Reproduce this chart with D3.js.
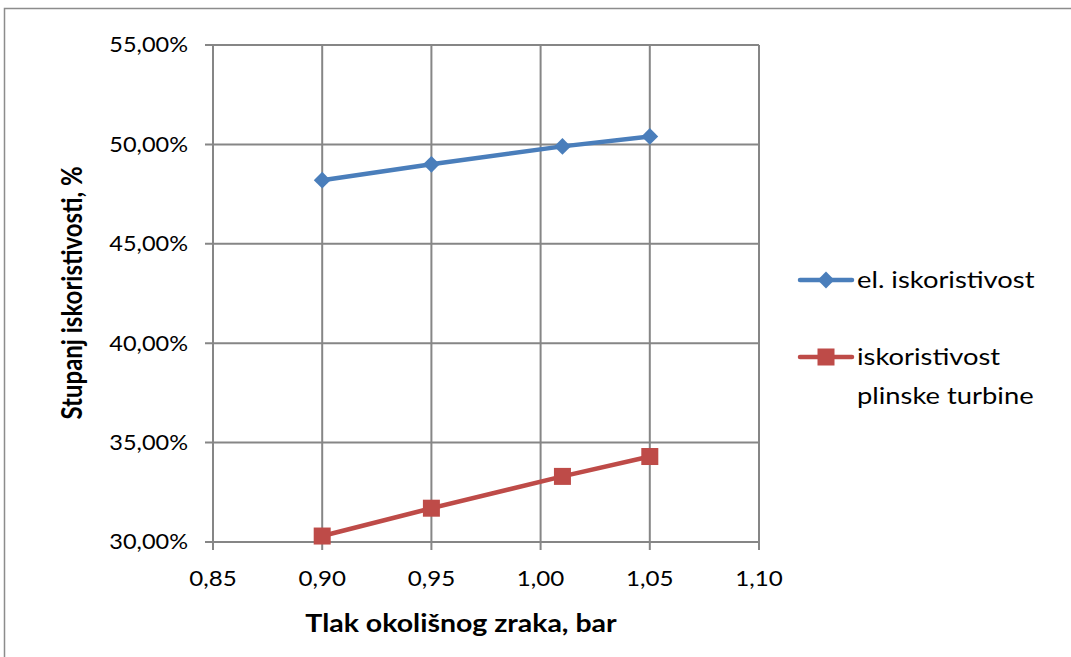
<!DOCTYPE html>
<html><head><meta charset="utf-8">
<script src="https://cdn.jsdelivr.net/npm/d3@7"></script>
<style>body{margin:0;background:#fff;} text{font-family:Lato,"Open Sans",sans-serif;}</style>
</head><body>
<svg id="c" width="1071" height="657"></svg>
<script>
const xValues = [0.90, 0.95, 1.01, 1.05];
const elEff = [0.482, 0.490, 0.499, 0.504];
const gtEff = [0.303, 0.317, 0.333, 0.343];
const xTicks = [0.85, 0.90, 0.95, 1.00, 1.05, 1.10];
const yTicks = [0.30, 0.35, 0.40, 0.45, 0.50, 0.55];
const seriesNames = ["el. iskoristivost", ["iskoristivost", "plinske turbine"]];
const colors = ["#4a7ebb", "#be4b48"];

const svg = d3.select("#c");
svg.append("rect").attr("x",4.5).attr("y",8.5).attr("width",1080).attr("height",660)
  .attr("fill","none").attr("stroke","#8c8c8c").attr("stroke-width",1.5);

const x = d3.scaleLinear().domain([0.85,1.10]).range([213,759]);
const y = d3.scaleLinear().domain([0.30,0.55]).range([542,45]);
const fmt = v => d3.format(".2f")(v).replace(".", ",");
const pfmt = v => d3.format(".2f")(v*100).replace(".", ",") + "%";

function label(g, tx, ty, txt, size, sx, anchor, weight) {
  const gg = g.append("g").attr("transform", `translate(${tx},${ty}) scale(${sx},1)`);
  gg.append("text").attr("dy","0.35em").attr("text-anchor",anchor||"start")
    .attr("font-size",size).attr("font-weight",weight||"normal").attr("fill","#000").text(txt);
  return gg;
}

const grid = svg.append("g");
grid.selectAll(".vg").data(xTicks).join("line")
  .attr("x1",d=>x(d)).attr("x2",d=>x(d)).attr("y1",y(0.55)).attr("y2",y(0.30)+8)
  .attr("stroke","#868686").attr("stroke-width",2);
grid.selectAll(".hg").data(yTicks).join("line")
  .attr("x1",x(0.85)-8).attr("x2",x(1.10)).attr("y1",d=>y(d)).attr("y2",d=>y(d))
  .attr("stroke","#868686").attr("stroke-width",2);

const yl = svg.append("g");
yTicks.forEach(d => label(yl, 188, y(d), pfmt(d), 21, 1.12, "end"));
const xl = svg.append("g");
xTicks.forEach(d => label(xl, x(d), 579, fmt(d), 21, 1.15, "middle"));

label(svg, 461, 623, "Tlak okolišnog zraka, bar", 25, 1.14, "middle", "bold");
svg.append("g").attr("transform","translate(72,293) scale(1.15,1) rotate(-90)")
  .append("text").attr("dy","0.35em").attr("text-anchor","middle")
  .attr("font-size",24).attr("font-weight","bold").text("Stupanj iskoristivosti, %");

const line = d3.line().x(d=>x(d[0])).y(d=>y(d[1]));
const s1 = xValues.map((v,i)=>[v,elEff[i]]);
const s2 = xValues.map((v,i)=>[v,gtEff[i]]);
svg.append("path").datum(s1).attr("d",line).attr("fill","none").attr("stroke",colors[0]).attr("stroke-width",4.5);
svg.append("path").datum(s2).attr("d",line).attr("fill","none").attr("stroke",colors[1]).attr("stroke-width",4.5);
const diamond = d3.symbol().type(d3.symbolDiamond2).size(180);
svg.append("g").selectAll("path").data(s1).join("path")
  .attr("transform",d=>`translate(${x(d[0])},${y(d[1])})`).attr("d",diamond()).attr("fill",colors[0]);
svg.append("g").selectAll("rect").data(s2).join("rect")
  .attr("x",d=>x(d[0])-8.5).attr("y",d=>y(d[1])-8.5).attr("width",17).attr("height",17).attr("fill",colors[1]);

// legend
const lg = svg.append("g");
lg.append("line").attr("x1",800).attr("x2",852).attr("y1",280).attr("y2",280).attr("stroke",colors[0]).attr("stroke-width",4.5).attr("stroke-linecap","round");
lg.append("path").attr("transform","translate(826,280)").attr("d",diamond()).attr("fill",colors[0]);
label(lg, 857, 280, seriesNames[0], 23, 1.19, "start");
lg.append("line").attr("x1",800).attr("x2",852).attr("y1",357).attr("y2",357).attr("stroke",colors[1]).attr("stroke-width",4.5).attr("stroke-linecap","round");
lg.append("rect").attr("x",817.5).attr("y",348.5).attr("width",17).attr("height",17).attr("fill",colors[1]);
label(lg, 857, 357, seriesNames[1][0], 23, 1.19, "start");
label(lg, 857, 396, seriesNames[1][1], 23, 1.19, "start");
</script>
</body></html>
